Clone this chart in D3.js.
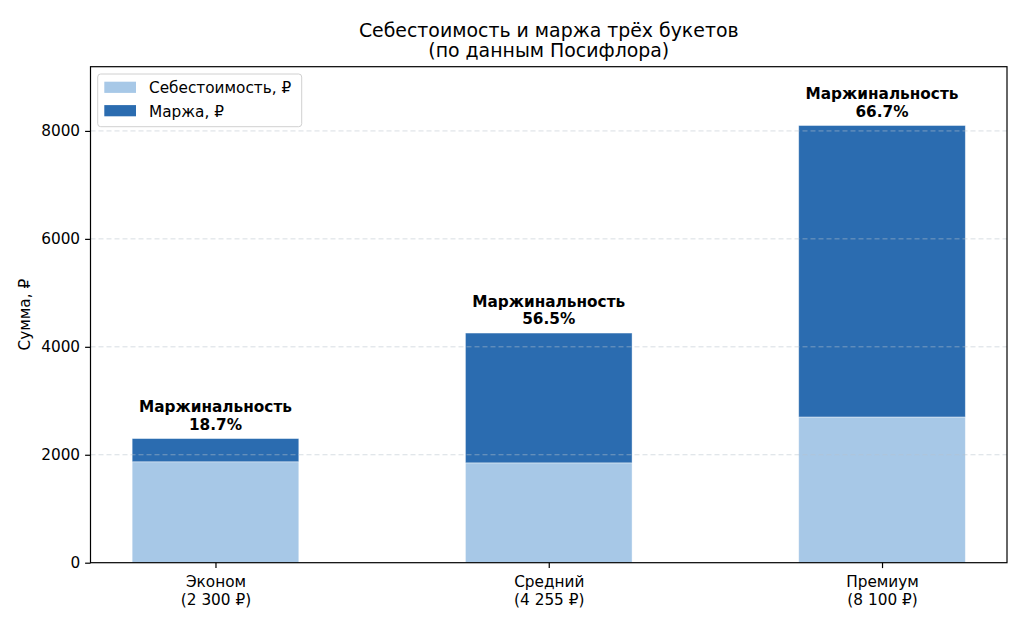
<!DOCTYPE html>
<html>
<head>
<meta charset="utf-8">
<script src="https://cdn.jsdelivr.net/npm/d3@7"></script>
<style>
  body { margin: 0; background: #fff; }
  svg { font-family: "DejaVu Sans", sans-serif; }
</style>
</head>
<body>
<svg id="chart" width="1024" height="626"></svg>
<script>
// data
const categories = ["Эконом", "Средний", "Премиум"];
const priceLabels = ["(2 300 ₽)", "(4 255 ₽)", "(8 100 ₽)"];
const costValues = [1870, 1850, 2700];
const marginValues = [430, 2405, 5400];
const marginPct = ["18.7%", "56.5%", "66.7%"];
const yTicks = [0, 2000, 4000, 6000, 8000];
const seriesNames = ["Себестоимость, ₽", "Маржа, ₽"];

const colors = ["#a7c8e7", "#2b6cb0"];
const fontFamily = "'DejaVu Sans', sans-serif";

const svg = d3.select("#chart");
const margins = { left: 90.5, right: 17, top: 66.7, bottom: 63.3 };
const width = 1024, height = 626;
const w = width - margins.left - margins.right;
const h = height - margins.top - margins.bottom;

const g = svg.append("g")
  .attr("transform", "translate(" + margins.left + "," + margins.top + ")");

// categorical positions like matplotlib (0,1,2 with 5% margins)
const xScale = d3.scaleLinear().domain([-0.375, 2.375]).range([0, w]);
const yScale = d3.scaleLinear().domain([0, 9190]).range([h, 0]);
const barW = xScale(0.5) - xScale(0);

// cost bars
g.append("g")
  .selectAll("rect")
  .data(costValues)
  .join("rect")
  .attr("x", (d, i) => xScale(i) - barW / 2)
  .attr("width", barW)
  .attr("y", d => yScale(d))
  .attr("height", d => yScale(0) - yScale(d))
  .attr("fill", colors[0])
  .attr("stroke", "#ffffff")
  .attr("stroke-opacity", 0.5)
  .attr("stroke-width", 0.8);

// margin bars stacked on top
g.append("g")
  .selectAll("rect")
  .data(marginValues)
  .join("rect")
  .attr("x", (d, i) => xScale(i) - barW / 2)
  .attr("width", barW)
  .attr("y", (d, i) => yScale(costValues[i] + d))
  .attr("height", (d, i) => yScale(costValues[i]) - yScale(costValues[i] + d))
  .attr("fill", colors[1])
  .attr("stroke", "#ffffff")
  .attr("stroke-opacity", 0.5)
  .attr("stroke-width", 0.8);

// grid (drawn over bars, faint)
g.append("g")
  .selectAll("line")
  .data(yTicks.filter(d => d > 0))
  .join("line")
  .attr("x1", 0)
  .attr("x2", w)
  .attr("y1", d => yScale(d))
  .attr("y2", d => yScale(d))
  .attr("stroke", "#b8c2cc")
  .attr("stroke-opacity", 0.55)
  .attr("stroke-width", 1)
  .attr("stroke-dasharray", "5,3");

// annotations
const ann = g.append("g")
  .selectAll("text")
  .data(marginValues)
  .join("text")
  .attr("text-anchor", "middle")
  .attr("font-weight", "bold")
  .attr("font-size", "15.3px")
  .attr("fill", "#000")
  .attr("x", (d, i) => xScale(i));
ann.append("tspan")
  .attr("x", (d, i) => xScale(i))
  .attr("y", (d, i) => yScale(costValues[i] + d) - 26.5)
  .text("Маржинальность");
ann.append("tspan")
  .attr("x", (d, i) => xScale(i))
  .attr("y", (d, i) => yScale(costValues[i] + d) - 9)
  .text((d, i) => marginPct[i]);

// axes
const yAxis = g.append("g")
  .call(d3.axisLeft(yScale).tickValues(yTicks).tickFormat(d3.format("d"))
    .tickSize(5.4).tickPadding(5))
  .attr("font-size", "15.3px")
  .attr("font-family", fontFamily);
yAxis.select(".domain").remove();
yAxis.selectAll(".tick line").attr("stroke", "#000").attr("stroke-width", 1.2);
yAxis.selectAll(".tick text").attr("fill", "#000");

const xAxis = g.append("g")
  .attr("transform", "translate(0," + h + ")")
  .call(d3.axisBottom(xScale).tickValues([0, 1, 2]).tickFormat("")
    .tickSize(5.4))
  .attr("font-size", "15.3px")
  .attr("font-family", fontFamily);
xAxis.select(".domain").remove();
xAxis.selectAll(".tick line").attr("stroke", "#000").attr("stroke-width", 1.2);

xAxis.selectAll(".tick")
  .append("text")
  .attr("text-anchor", "middle")
  .attr("fill", "#000")
  .each(function (d) {
    const t = d3.select(this);
    t.append("tspan").attr("x", 0).attr("y", 24.5).text(categories[d]);
    t.append("tspan").attr("x", 0).attr("y", 42.8).text(priceLabels[d]);
  });

// frame
g.append("rect")
  .attr("width", w)
  .attr("height", h)
  .attr("fill", "none")
  .attr("stroke", "#000")
  .attr("stroke-width", 1.2);

// y label
svg.append("text")
  .attr("transform", "translate(30," + (margins.top + h / 2) + ") rotate(-90)")
  .attr("text-anchor", "middle")
  .attr("font-size", "15.3px")
  .attr("fill", "#000")
  .text("Сумма, ₽");

// title
const title = svg.append("text")
  .attr("text-anchor", "middle")
  .attr("font-size", "18.9px")
  .attr("fill", "#000");
title.append("tspan").attr("x", margins.left + w / 2).attr("y", 37)
  .text("Себестоимость и маржа трёх букетов");
title.append("tspan").attr("x", margins.left + w / 2).attr("y", 57)
  .text("(по данным Посифлора)");

// legend
const legend = svg.append("g").attr("transform", "translate(97.7,74)");
legend.append("rect")
  .attr("width", 204)
  .attr("height", 52.7)
  .attr("rx", 3)
  .attr("fill", "#fff")
  .attr("fill-opacity", 0.8)
  .attr("stroke", "#d0d0d0");
const items = legend.selectAll("g.item")
  .data(seriesNames)
  .join("g")
  .attr("class", "item")
  .attr("transform", (d, i) => "translate(0," + i * 23.4 + ")");
items.append("rect")
  .attr("x", 6.6)
  .attr("y", 7.7)
  .attr("width", 31.7)
  .attr("height", 11.2)
  .attr("fill", (d, i) => colors[i]);
items.append("text")
  .attr("x", 51.3)
  .attr("y", 19.3)
  .attr("font-size", "15.3px")
  .attr("fill", "#000")
  .text(d => d);
</script>
</body>
</html>
